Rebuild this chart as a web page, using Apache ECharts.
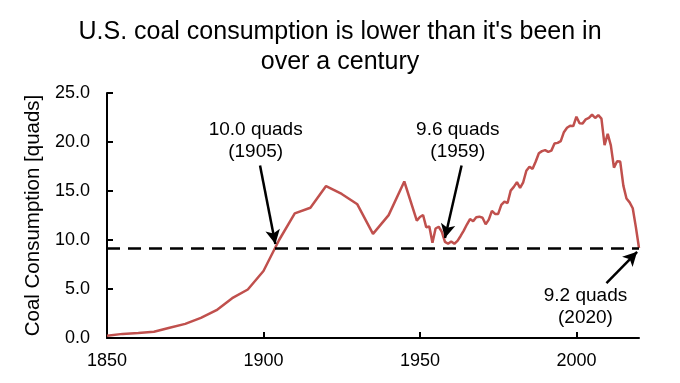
<!DOCTYPE html>
<html>
<head>
<meta charset="utf-8">
<script src="https://cdn.jsdelivr.net/npm/echarts@6/dist/echarts.min.js"></script>
<style>html,body{margin:0;padding:0;background:#fff;}#c{width:680px;height:383px;}</style>
</head>
<body>
<div id="c"></div>
<script>
const years = [1850,1855,1860,1865,1870,1875,1880,1885,1890,1895,1900,1905,1910,1915,1920,1925,1930,1935,1940,1945,
1949,1950,1951,1952,1953,1954,1955,1956,1957,1958,1959,1960,1961,1962,1963,1964,1965,1966,1967,1968,1969,
1970,1971,1972,1973,1974,1975,1976,1977,1978,1979,1980,1981,1982,1983,1984,1985,1986,1987,1988,1989,
1990,1991,1992,1993,1994,1995,1996,1997,1998,1999,2000,2001,2002,2003,2004,2005,2006,2007,2008,2009,
2010,2011,2012,2013,2014,2015,2016,2017,2018,2019,2020];
const consumption = [0.22,0.42,0.52,0.63,1.05,1.44,2.05,2.84,4.06,4.95,6.84,10.0,12.71,13.29,15.5,14.7,13.64,10.63,12.54,15.97,
11.98,12.35,12.55,11.31,11.37,9.72,11.17,11.35,10.82,9.81,9.62,9.84,9.62,9.91,10.41,10.96,11.58,12.14,11.91,12.33,12.38,
12.27,11.6,12.08,12.97,12.66,12.66,13.58,13.92,13.77,15.04,15.42,15.91,15.32,15.89,17.07,17.48,17.26,18.01,18.85,19.07,
19.17,18.99,19.12,19.84,19.91,20.09,21.0,21.45,21.66,21.62,22.58,21.91,21.9,22.32,22.47,22.8,22.45,22.75,22.39,19.69,
20.83,19.66,17.38,18.04,18.0,15.55,14.23,13.84,13.24,11.31,9.18];
const referenceLevel = 9.2;
const yTicks = [0,5,10,15,20,25];
const xTicks = [1850,1900,1950,2000];
const annotationTexts = ['10.0 quads\n(1905)', '9.6 quads\n(1959)', '9.2 quads\n(2020)'];
const annotationAt = [[1897.5, 20.1], [1962.1, 20.1], [2002.9, 3.2]];
const arrowFrom = [[1898.9, 17.6], [1963.3, 17.6], [2009.6, 5.6]];
const arrowTo = [[1903.8, 9.6], [1958.0, 10.2], [2019.4, 8.8]];

const chart = echarts.init(document.getElementById('c'), null, {renderer: 'canvas'});
const font = 'Liberation Sans, Arial, sans-serif';
chart.setOption({
  animation: false,
  backgroundColor: '#fff',
  title: {
    text: 'U.S. coal consumption is lower than it\'s been in\nover a century',
    left: 'center', top: 12,
    textStyle: {fontFamily: font, fontSize: 25, fontWeight: 'normal', color: '#000', lineHeight: 30}
  },
  grid: {left: 107, right: 41, top: 93, bottom: 45},
  xAxis: {
    type: 'value', min: 1850, max: 2020, interval: 50,
    axisLine: {lineStyle: {color: '#000', width: 2}},
    axisTick: {inside: true, length: 6, lineStyle: {color: '#000', width: 2}},
    axisLabel: {fontFamily: font, fontSize: 18, color: '#000', margin: 14, showMaxLabel: false,
      formatter: v => xTicks.includes(v) ? String(v) : ''},
    splitLine: {show: false}
  },
  yAxis: {
    type: 'value', min: 0, max: 25, interval: 5,
    name: 'Coal Consumption [quads]', nameLocation: 'middle', nameGap: 62,
    nameTextStyle: {fontFamily: font, fontSize: 20.5, color: '#000'},
    axisLine: {show: true, lineStyle: {color: '#000', width: 2}},
    axisTick: {show: true, inside: true, length: 6, lineStyle: {color: '#000', width: 2}},
    axisLabel: {fontFamily: font, fontSize: 18, color: '#000', margin: 17,
      formatter: v => yTicks.includes(v) ? v.toFixed(1) : ''},
    splitLine: {show: false}
  },
  series: [
    {
      type: 'line', data: years.map((y, i) => [y, consumption[i]]),
      symbol: 'none', lineStyle: {color: '#C0504D', width: 2.5}, z: 3,
      markLine: {
        silent: true, symbol: ['none', 'none'],
        lineStyle: {color: '#000', width: 2.5, type: [13, 8]},
        label: {show: false},
        data: [[{coord: [1850, referenceLevel]}, {coord: [2020, referenceLevel]}]]
      }
    },
    {
      type: 'line', data: [], z: 4,
      markLine: {
        silent: true, symbol: ['none', 'arrow'], symbolSize: [11, 14],
        lineStyle: {color: '#000', width: 2.5, type: 'solid'},
        label: {show: false},
        data: arrowFrom.map((f, i) => [{coord: f}, {coord: arrowTo[i]}])
      }
    },
    {
      type: 'scatter', symbolSize: 0, z: 5, silent: true,
      itemStyle: {opacity: 1, color: '#000'},
      data: annotationAt.map((p, i) => ({value: p, name: annotationTexts[i]})),
      label: {show: true, position: 'inside', formatter: p => p.name, opacity: 1,
        fontFamily: font, fontSize: 19, color: '#000', textBorderWidth: 0, lineHeight: 22, align: 'center'}
    }
  ]
});
</script>
</body>
</html>
